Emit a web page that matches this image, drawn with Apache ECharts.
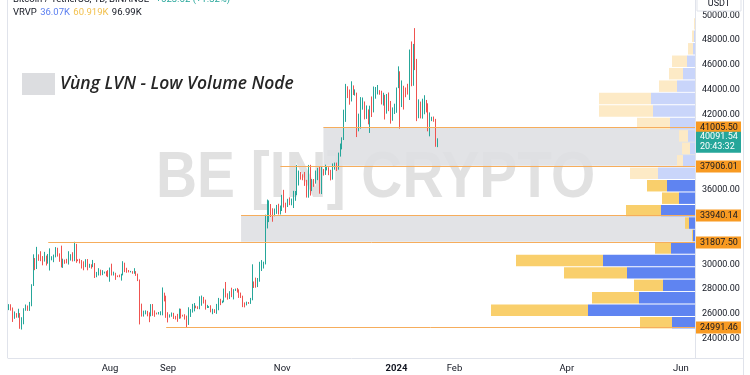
<!DOCTYPE html>
<html>
<head>
<meta charset="utf-8">
<script src="https://cdn.jsdelivr.net/npm/echarts@6/dist/echarts.min.js"></script>
<style>
  html, body { margin: 0; padding: 0; background: #fff; }
  #chart { width: 750px; height: 375px; }
</style>
</head>
<body>
<div id="chart"></div>
<script>
// BTC/USDT daily, 2023-06-08 .. 2024-01-23 (open = previous close)
const startDate = '2023-06-08';
const totalDays = 367;
const firstOpen = 26350;

const closes = [
  // Jun
  26500, 26480, 25850, 25940, 25900, 25920, 25130, 25580, 26330, 26510, 26340, 26840, 28310, 30000, 29890, 30690, 30550, 30470, 30270, 30690, 30080, 30450, 30470,
  // Jul
  30590, 30620, 31160, 30770, 30510, 29900, 30350, 30290, 30170, 30410, 30620, 30390, 31470, 30320, 30290, 30250, 30140, 29860, 29910, 29800, 29910, 29800, 30080, 29180, 29230, 29350, 29220, 29320, 29350, 29280, 29230,
  // Aug
  29700, 29170, 29180, 29080, 29050, 29040, 29180, 29770, 29580, 29430, 29400, 29420, 29290, 29410, 29170, 28700, 26620, 26050, 26100, 26190, 26120, 26040, 26430, 26160, 26050, 26010, 26090, 26100, 27720, 27300, 25930,
  // Sep
  25800, 25870, 25970, 25810, 25780, 25750, 26240, 25900, 25890, 25830, 25160, 25840, 26220, 26530, 26600, 26570, 26530, 26760, 27210, 27130, 26570, 26580, 26580, 26250, 26300, 26220, 26350, 27020, 26910, 26970,
  // Oct
  27990, 27500, 27430, 27790, 27410, 27950, 27970, 27940, 27590, 27390, 26880, 26760, 26860, 26850, 27150, 28520, 28420, 28330, 28720, 29680, 29920, 29990, 33070, 33920, 34500, 34160, 33910, 34090, 34540, 34490, 34660,
  // Nov
  35440, 34940, 34730, 35080, 35040, 35050, 35420, 35630, 36700, 37310, 37130, 37060, 36490, 35540, 37880, 36160, 36600, 36580, 37380, 37470, 35810, 37420, 37290, 37720, 37800, 37480, 37250, 37830, 37860, 37720,
  // Dec
  38690, 39460, 39980, 41980, 44080, 43780, 43290, 44170, 43720, 43790, 41240, 41450, 42890, 43020, 41930, 42240, 41360, 42660, 42270, 43660, 43860, 43990, 43740, 43010, 43580, 42510, 43440, 42580, 42070, 42140, 42280,
  // Jan
  44180, 44950, 42850, 44180, 44160, 43970, 43930, 46970, 46120, 46660, 46340, 42780, 42840, 41730, 42510, 43150, 42740, 41260, 41620, 41660, 41580, 39570, 40090
];

const highs = [
  26800, 26790, 26530, 26210, 26080, 26430, 26080, 25750, 26470, 26770, 26690, 26980, 28400, 30800, 30500, 31400, 30800, 31050, 30660, 31000, 30700, 30830, 31280,
  30650, 30780, 31380, 31330, 30880, 31500, 30450, 30380, 30440, 31050, 30810, 30970, 31807, 31640, 30400, 30440, 30340, 30240, 30410, 30420, 30040, 30000, 30350, 30100, 29390, 29690, 29570, 29530, 29410, 29450, 29530,
  29740, 30050, 29410, 29320, 29110, 29170, 29240, 30250, 30130, 29720, 29540, 29470, 29450, 29690, 29450, 29250, 28780, 26840, 26280, 26300, 26260, 26140, 26800, 26810, 26300, 26120, 26170, 26230, 28140, 27580, 27480,
  26150, 25980, 26130, 26100, 25860, 26020, 26450, 26430, 25950, 25990, 25880, 26550, 26400, 26820, 26890, 26680, 26630, 27430, 27490, 27380, 27160, 26740, 26640, 26710, 26430, 26390, 26820, 27300, 27230, 27090,
  28050, 28580, 27670, 27840, 28120, 28000, 28050, 28100, 27990, 27730, 27480, 26940, 27000, 26970, 27300, 30000, 28620, 28930, 28900, 30200, 30340, 30210, 33990, 35200, 35130, 34840, 34500, 34480, 34770, 34860, 34720,
  35580, 35980, 34950, 35260, 35380, 35280, 35900, 35890, 37970, 37530, 37420, 37230, 37420, 36780, 37980, 37990, 36850, 36850, 37530, 37750, 37860, 37880, 37660, 38000, 37900, 37620, 37590, 38100, 38170, 38170,
  38970, 39700, 40200, 42420, 44490, 44300, 44040, 44700, 44370, 44050, 43790, 42100, 43430, 43400, 43080, 42760, 42440, 42740, 43480, 44280, 44240, 44400, 43950, 43940, 43780, 43610, 43680, 43800, 43120, 42600, 42900,
  44200, 45900, 45500, 44770, 44340, 44200, 44500, 47250, 47900, 47700, 48970, 46500, 43250, 43070, 43300, 43580, 43200, 42930, 42200, 41850, 41870, 41680, 40120
];

const lows = [
  26320, 26280, 25370, 25620, 25710, 25710, 24820, 24760, 25180, 26270, 26260, 26260, 26630, 28260, 29530, 29620, 30280, 30250, 29920, 30220, 29900, 30050, 29500,
  30320, 30170, 30560, 30620, 30200, 29750, 29710, 30040, 30070, 29980, 30300, 30230, 30250, 30120, 30250, 30070, 29660, 29520, 29770, 29520, 29720, 29650, 29770, 28900, 28960, 29100, 29100, 29130, 29260, 29040, 28970,
  28600, 29100, 29100, 28750, 28970, 28960, 28690, 29110, 29370, 29320, 29350, 29350, 29240, 29240, 29070, 28650, 25170, 25800, 25800, 25980, 25820, 25350, 25820, 25860, 25780, 25970, 25970, 25910, 25900, 27020, 25700,
  25330, 25720, 25790, 25610, 25570, 25380, 25620, 25650, 25800, 25560, 24930, 25130, 25770, 26120, 26220, 26470, 26400, 26390, 26670, 26850, 26360, 26490, 26500, 26140, 25990, 26090, 26020, 26310, 26720, 26880,
  26950, 27330, 27160, 27210, 27360, 27180, 27860, 27730, 27300, 27290, 26560, 26540, 26700, 26820, 26820, 27110, 28100, 28120, 28170, 28600, 29460, 29660, 30000, 32880, 33390, 33800, 33420, 33860, 34050, 34000, 34000,
  34280, 34560, 34130, 34600, 34750, 34740, 34520, 35100, 35550, 36330, 36800, 36750, 36300, 35360, 35350, 35520, 35880, 36220, 36480, 36760, 35670, 35640, 37130, 37180, 37540, 37160, 36740, 36800, 37600, 37500,
  37600, 38650, 39230, 39980, 41440, 43350, 42820, 43080, 43600, 43550, 40220, 40680, 40900, 42420, 41640, 41680, 41240, 40550, 41830, 42200, 43300, 43640, 43620, 42840, 42750, 41630, 42100, 42300, 41300, 41530, 42070,
  42170, 44150, 40900, 42630, 42430, 43420, 43630, 43200, 44300, 44340, 45600, 41500, 41730, 41720, 41700, 42050, 42200, 40680, 40280, 41500, 41450, 39440, 39410
];

// visible-range volume profile (rows of 1000 USDT)
const profileBinSize = 1000;
const profileBinLows = [24850, 25850, 26850, 27850, 28850, 29850, 30850, 31850, 32850, 33850, 34850, 35850,
  36850, 37850, 38850, 39850, 40850, 41850, 42850, 43850, 44850, 45850, 46850, 47850, 48850];
const profileUp   = [23, 107, 56, 32, 68, 92, 24, 2, 6, 34, 16, 28, 37, 12, 5, 7, 25, 42, 44, 18, 12, 8, 2, 1, 0];
const profileDown = [32, 97, 47, 29, 63, 87, 16, 1, 4, 35, 17, 20, 28, 6, 8, 9, 33, 54, 52, 18, 14, 15, 5, 2, 1];
const valueAreaTop = 36850;

// horizontal levels and LVN zones
const levelPrices = [41005.50, 37906.01, 33940.14, 31807.50, 24991.46];
const levelStarts = ['2023-11-23', '2023-10-31', '2023-10-10', '2023-06-29', '2023-08-31'];
const zoneStarts = ['2023-11-23', '2023-10-10'];
const zoneLows = [37906.01, 31807.50];
const zoneHighs = [41005.50, 33940.14];

// price-scale labels left visible (the others sit under the level tags)
const priceTicks = [24000, 26000, 28000, 30000, 36000, 42000, 44000, 46000, 48000, 50000];
const monthLabels = {
  '2023-08-01': 'Aug', '2023-09-01': 'Sep', '2023-11-01': 'Nov', '2024-01-01': '2024',
  '2024-02-01': 'Feb', '2024-04-01': 'Apr', '2024-06-01': 'Jun'
};
const lastPrice = 40091.54;
const countdown = '20:43:32';

// ---- build
const dates = [];
const d0 = new Date(startDate + 'T00:00:00Z');
for (let i = 0; i < totalDays; i++) {
  dates.push(new Date(d0.getTime() + i * 86400000).toISOString().slice(0, 10));
}
const candles = closes.map(function (c, i) {
  const o = i === 0 ? firstOpen : closes[i - 1];
  return [o, c, Math.min(lows[i], o, c), Math.max(highs[i], o, c)];
});
const profileData = profileBinLows.map(function (b, i) { return [b, profileUp[i], profileDown[i]]; });
const levelData = levelPrices.map(function (p, i) { return [levelStarts[i], p]; });
const zoneData = zoneStarts.map(function (s, i) { return [s, zoneLows[i], zoneHighs[i]]; });

const FONT = 'Roboto, "Liberation Sans", sans-serif';
const TEXT = '#131722';
const chart = echarts.init(document.getElementById('chart'));

chart.setOption({
  animation: false,
  backgroundColor: '#ffffff',
  grid: { left: 8, right: 55, top: 0, bottom: 17 },
  xAxis: [{
    type: 'category',
    data: dates,
    boundaryGap: true,
    axisLine: { lineStyle: { color: '#e0e3eb' } },
    axisTick: { show: false },
    splitLine: { show: false },
    axisLabel: {
      interval: function (i, v) { return !!monthLabels[v]; },
      formatter: function (v) { return v === '2024-01-01' ? '{b|2024}' : monthLabels[v]; },
      color: TEXT, fontSize: 9.5, fontFamily: FONT, margin: 6,
      rich: { b: { fontWeight: 'bold', fontSize: 9.5, color: TEXT, fontFamily: FONT } }
    }
  }, {
    type: 'value', show: false, min: 0, max: 687, inverse: true, position: 'top'
  }],
  yAxis: {
    type: 'value',
    position: 'right',
    min: 22474,
    max: 51229,
    axisLine: { show: true, lineStyle: { color: '#e0e3eb' } },
    axisTick: { show: false },
    splitLine: { show: false },
    axisLabel: {
      customValues: priceTicks,
      formatter: function (v) { return v.toFixed(2); },
      color: TEXT, fontSize: 9, fontFamily: FONT, margin: 7
    }
  },
  graphic: [
    { type: 'text', z: 0, x: 156, y: 179, scaleX: 0.875,
      style: { text: 'BE [IN] CRYPTO', font: 'bold 65px "Liberation Sans", Arial, sans-serif',
        fill: '#e1e1e1', verticalAlign: 'middle', align: 'left' } },
    { type: 'line', z: 10, shape: { x1: 7.5, y1: 0, x2: 7.5, y2: 358 }, style: { stroke: '#e0e3eb' } },
    { type: 'line', z: 10, shape: { x1: 743.5, y1: 0, x2: 743.5, y2: 375 }, style: { stroke: '#e0e3eb' } },
    { type: 'line', z: 10, shape: { x1: 695, y1: 358.5, x2: 743, y2: 358.5 }, style: { stroke: '#e0e3eb' } },
    { type: 'rect', z: 20, shape: { x: 697, y: -4, width: 44, height: 15 }, style: { fill: '#fff', stroke: '#e0e3eb' } },
    { type: 'text', z: 21, x: 719, y: 4, style: { text: 'USDT', font: '9px ' + FONT, fill: TEXT, align: 'center', verticalAlign: 'middle' } },
    { type: 'text', z: 20, x: 13, y: 0,
      style: { text: '{a|Bitcoin / TetherUS, 1D, BINANCE}  {g|+523.52 (+1.32%)}', verticalAlign: 'middle',
        rich: { a: { fontSize: 9.5, fill: TEXT, fontFamily: FONT }, g: { fontSize: 9.5, fill: '#26a69a', fontFamily: FONT } } } },
    { type: 'text', z: 20, x: 13, y: 13,
      style: { text: '{a|VRVP} {b|36.07K} {c|60.919K} {a|96.99K}', verticalAlign: 'middle',
        rich: { a: { fontSize: 9.5, fill: TEXT, fontFamily: FONT }, b: { fontSize: 9.5, fill: '#5b7ff0', fontFamily: FONT },
          c: { fontSize: 9.5, fill: '#f2c04d', fontFamily: FONT } } } },
    { type: 'rect', z: 20, shape: { x: 22, y: 73, width: 33, height: 22 }, style: { fill: '#dcdde0' } },
    { type: 'text', z: 20, x: 60, y: 84,
      style: { text: 'Vùng LVN - Low Volume Node', font: 'italic 600 17.5px "Open Sans", sans-serif', fill: '#262626', verticalAlign: 'middle' } }
  ],
  series: [
    {
      name: 'LVN', type: 'custom', z: 1, xAxisIndex: 0, yAxisIndex: 0,
      encode: { x: 0, y: [1, 2] },
      data: zoneData,
      renderItem: function (params, api) {
        const top = api.coord([api.value(0), api.value(2)]);
        const bot = api.coord([api.value(0), api.value(1)]);
        const right = params.coordSys.x + params.coordSys.width;
        return { type: 'rect', shape: { x: top[0], y: top[1], width: right - top[0], height: bot[1] - top[1] },
          style: { fill: '#dfe0e3', opacity: 0.9 } };
      }
    },
    {
      name: 'VRVP', type: 'custom', z: 2, xAxisIndex: 1, yAxisIndex: 0,
      encode: { y: 0, x: [1, 2] },
      data: profileData,
      renderItem: function (params, api) {
        const b = api.value(0), up = api.value(1), dn = api.value(2);
        const yTop = api.coord([0, b + profileBinSize])[1];
        const yBot = api.coord([0, b])[1];
        const x0 = api.coord([0, b])[0];
        const xUp = api.coord([up, b])[0];
        const xAll = api.coord([up + dn, b])[0];
        const faded = b >= valueAreaTop;
        const h = yBot - yTop - 1;
        return { type: 'group', children: [
          { type: 'rect', shape: { x: xUp, y: yTop + 1, width: x0 - xUp, height: h },
            style: { fill: faded ? '#c9d5fa' : '#5f84f1' } },
          { type: 'rect', shape: { x: xAll, y: yTop + 1, width: xUp - xAll, height: h },
            style: { fill: faded ? '#fdeac6' : '#f9cf6c' } }
        ] };
      }
    },
    {
      name: 'BTCUSDT', type: 'candlestick', z: 3, xAxisIndex: 0, yAxisIndex: 0,
      data: candles,
      barWidth: 1.2,
      itemStyle: { color: '#26a69a', color0: '#ef5350', borderColor: '#26a69a', borderColor0: '#ef5350', borderWidth: 1 }
    },
    {
      name: 'Levels', type: 'custom', z: 4, xAxisIndex: 0, yAxisIndex: 0,
      encode: { x: 0, y: 1 },
      data: levelData,
      renderItem: function (params, api) {
        const p = api.coord([api.value(0), api.value(1)]);
        const right = params.coordSys.x + params.coordSys.width;
        const y = Math.round(p[1]) + 0.5;
        return { type: 'group', children: [
          { type: 'line', shape: { x1: p[0], y1: y, x2: right, y2: y }, style: { stroke: '#f6ad5c', lineWidth: 1 } },
          { type: 'rect', shape: { x: right + 1, y: y - 6, width: 45, height: 12 }, style: { fill: '#f89a22' } },
          { type: 'text', x: right + 5, y: y, style: { text: api.value(1).toFixed(2), fill: TEXT,
            font: '9px ' + FONT, verticalAlign: 'middle', align: 'left' } }
        ] };
      }
    },
    {
      name: 'Last', type: 'custom', z: 5, xAxisIndex: 0, yAxisIndex: 0,
      encode: { x: 0, y: 1 },
      data: [[dates[closes.length - 1], lastPrice]],
      renderItem: function (params, api) {
        const p = api.coord([api.value(0), api.value(1)]);
        const right = params.coordSys.x + params.coordSys.width;
        return { type: 'group', children: [
          { type: 'rect', shape: { x: right + 1, y: p[1] - 7, width: 45, height: 21 }, style: { fill: '#26a69a' } },
          { type: 'text', x: right + 5, y: p[1] - 1.5, style: { text: api.value(1).toFixed(2), fill: '#fff',
            font: '9px ' + FONT, verticalAlign: 'middle' } },
          { type: 'text', x: right + 5, y: p[1] + 8.5, style: { text: countdown, fill: '#fff',
            font: '9px ' + FONT, verticalAlign: 'middle' } }
        ] };
      }
    }
  ]
});
</script>
</body>
</html>
